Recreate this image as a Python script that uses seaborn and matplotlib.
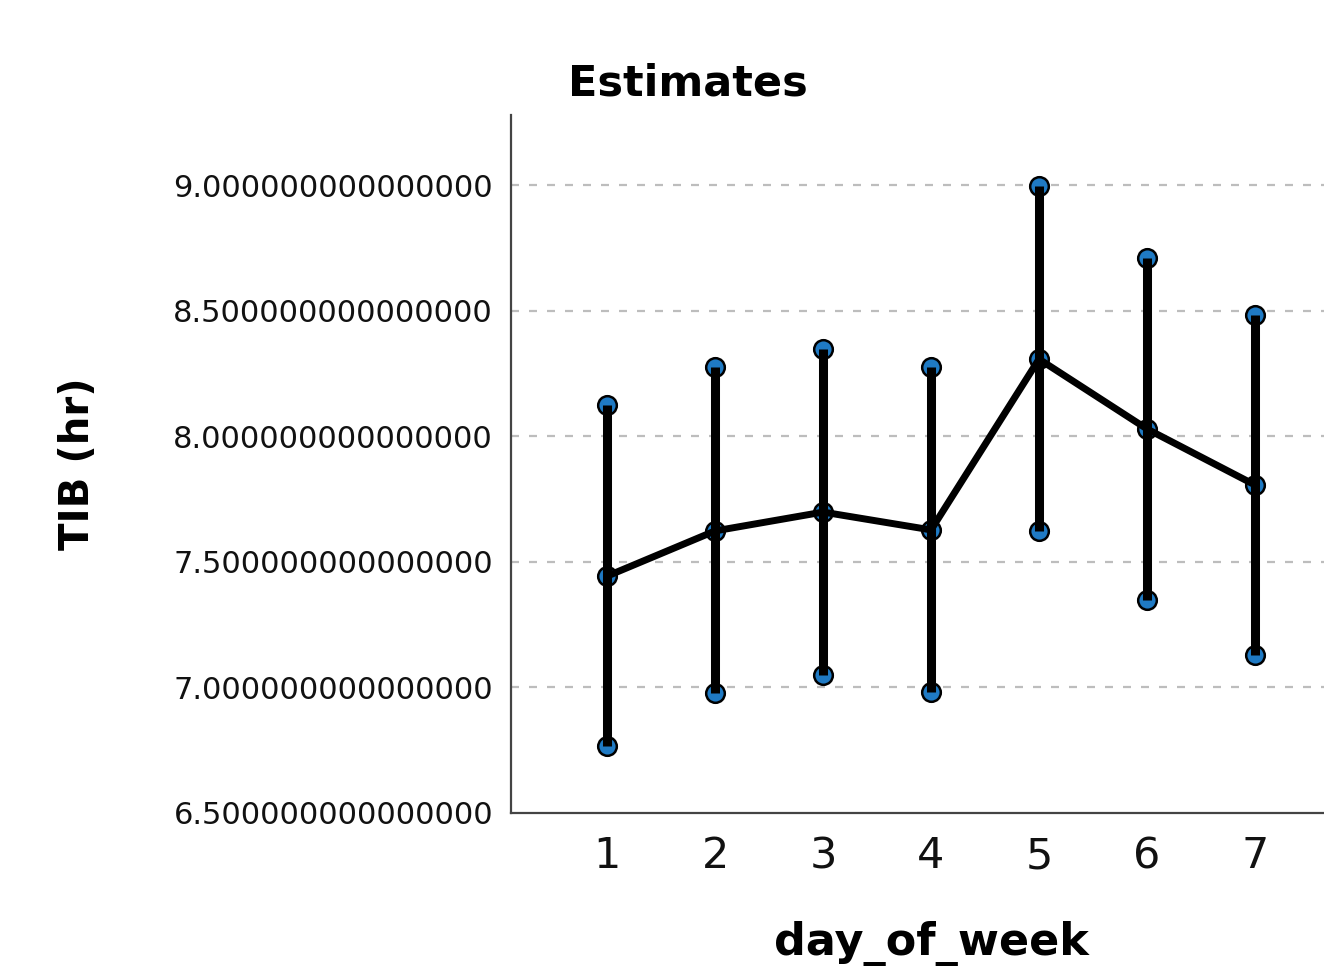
import seaborn as sns
import matplotlib.pyplot as plt
import pandas as pd
from matplotlib.ticker import FuncFormatter

# values
days = [1, 2, 3, 4, 5, 6, 7]
tib_mean = [7.443, 7.623, 7.698, 7.627, 8.307, 8.029, 7.806]
tib_upper = [8.124, 8.275, 8.347, 8.275, 8.996, 8.709, 8.482]
tib_lower = [6.767, 6.978, 7.049, 6.982, 7.623, 7.348, 7.129]
y_ticks = [6.5, 7.0, 7.5, 8.0, 8.5, 9.0]


def plot_data(df):
    sns.set_style("white")
    plt.rcParams['font.family'] = ['DejaVu Sans']
    plt.rcParams['text.color'] = 'black'
    plt.rcParams['axes.labelcolor'] = 'black'

    fig = plt.figure(figsize=(13.24, 9.66), dpi=100)
    ax = fig.add_axes([0.386, 0.1584, 0.6344, 0.7226])

    # dashed grid first so everything sits on top
    for t in y_ticks[1:]:
        ax.axhline(t, color='#bdbdbd', lw=1.6, ls=(0, (3.6, 4.5)), zorder=0)

    for col in ['upper', 'lower', 'mean']:
        sns.scatterplot(data=df, x='day', y=col, ax=ax, s=180, color='#1f7ac4',
                        edgecolor='black', linewidth=1.8, zorder=1, legend=False)

    ax.vlines(df['day'], df['lower'], df['upper'], color='black', lw=6.5, zorder=2)
    sns.lineplot(data=df, x='day', y='mean', ax=ax, color='black', lw=5, zorder=3)

    ax.set_xlim(0.11, 7.89)
    ax.set_ylim(6.5, 9.279)
    ax.set_xticks(days)
    ax.set_yticks(y_ticks)
    ax.yaxis.set_major_formatter(FuncFormatter(lambda v, p: '{:.15f}'.format(v)))

    ax.tick_params(axis='y', length=0, pad=13, labelsize=22, colors='#111111')
    ax.tick_params(axis='x', length=0, pad=16, labelsize=31, colors='#111111')

    sns.despine(ax=ax)
    for s in ['left', 'bottom']:
        ax.spines[s].set_color('#444444')
        ax.spines[s].set_linewidth(1.6)

    ax.set_xlabel('day_of_week', fontsize=32, fontweight='bold', va='top')
    ax.xaxis.set_label_coords(0.5, -0.155)
    ax.set_ylabel('TIB (hr)', fontsize=29, fontweight='bold')
    ax.yaxis.set_label_coords(-0.492, 0.5)

    fig.text(688 / 1324, 1 - 95 / 966, 'Estimates', fontsize=31, fontweight='bold',
             ha='center', va='baseline')

    fig.savefig('out.png', dpi=100)


def main():
    df = pd.DataFrame({'day': days, 'mean': tib_mean,
                       'upper': tib_upper, 'lower': tib_lower})
    plot_data(df)


if __name__ == "__main__":
    main()
